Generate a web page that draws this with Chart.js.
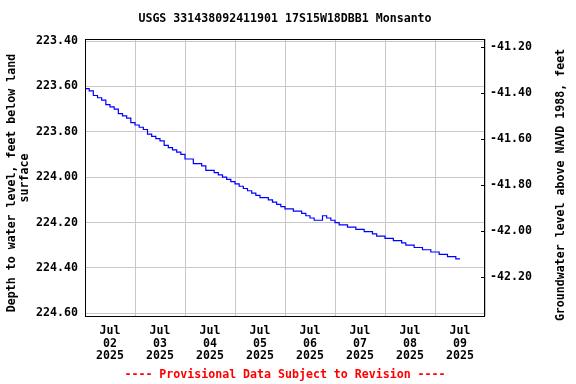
<!DOCTYPE html>
<html>
<head>
<meta charset="utf-8">
<script src="https://cdn.jsdelivr.net/npm/chart.js@4"></script>
<style>
  body { margin: 0; background: #fff; }
  canvas { display: block; }
</style>
</head>
<body>
<canvas id="myChart" width="576" height="384"></canvas>
<script>
// hours after Jul 02 2025 00:00, one reading every 2 hours
const startHour = 0
const stepHours = 2
const depth = [
    223.61, 223.62, 223.64, 223.65, 223.66, 223.68, 223.69, 223.70, 223.72, 223.73, 223.74, 223.76,
    223.77, 223.78, 223.79, 223.81, 223.82, 223.83, 223.84, 223.86, 223.87, 223.88, 223.89, 223.90,
    223.92, 223.92, 223.94, 223.94, 223.95, 223.97, 223.97, 223.98, 223.99, 224.00, 224.01, 224.02,
    224.03, 224.04, 224.05, 224.06, 224.07, 224.08, 224.09, 224.09, 224.10, 224.11, 224.12, 224.13,
    224.14, 224.14, 224.15, 224.15, 224.16, 224.17, 224.18, 224.19, 224.19, 224.17, 224.18, 224.19,
    224.20, 224.21, 224.21, 224.22, 224.22, 224.23, 224.23, 224.24, 224.24, 224.25, 224.26, 224.26,
    224.27, 224.27, 224.28, 224.28, 224.29, 224.30, 224.30, 224.31, 224.31, 224.32, 224.32, 224.33,
    224.33, 224.34, 224.34, 224.35, 224.35, 224.36, 224.36
]
const dayLabels = ['02', '03', '04', '05', '06', '07', '08', '09']
const monthLabel = 'Jul'
const yearLabel = '2025'
const depthTicks = [223.4, 223.6, 223.8, 224.0, 224.2, 224.4, 224.6]
const elevTicks = [-42.2, -42.0, -41.8, -41.6, -41.4, -41.2]

const font = { family: 'DejaVu Sans Mono', size: 11.6, weight: 'bold', lineHeight: 1.12 }
const textFont = 'bold 11.6px "DejaVu Sans Mono"'

const points = depth.map((d, i) => ({ x: startHour + i * stepHours, y: d }))
const xTicks = []
for (let h = 0; h <= 192; h += 12) xTicks.push(h)

function vertText(ctx, text, x, y) {
    ctx.save()
    ctx.translate(x, y)
    ctx.rotate(-Math.PI / 2)
    ctx.fillText(text, 0, 0)
    ctx.restore()
}

const frame = {
    id: 'frame',
    afterDraw(chart) {
        const { ctx, chartArea: a } = chart
        ctx.save()
        ctx.strokeStyle = '#000'
        ctx.lineWidth = 1
        ctx.strokeRect(a.left + 0.5, a.top + 0.5, a.right - a.left - 1, a.bottom - a.top)
        // small inward ticks on the right axis
        const r = chart.scales.y2
        ctx.beginPath()
        r.ticks.forEach(t => {
            const py = Math.round(r.getPixelForValue(t.value)) + 0.5
            ctx.moveTo(a.right - 4, py)
            ctx.lineTo(a.right, py)
        })
        ctx.stroke()
        ctx.fillStyle = '#000'
        ctx.font = textFont
        ctx.textAlign = 'center'
        ctx.textBaseline = 'middle'
        ctx.fillText('USGS 331438092411901 17S15W18DBB1 Monsanto', 285, 19)
        vertText(ctx, 'Depth to water level, feet below land', 12, 183)
        vertText(ctx, 'surface', 25, 178)
        vertText(ctx, 'Groundwater level above NAVD 1988, feet', 561, 185)
        ctx.fillStyle = '#ff0000'
        ctx.fillText('---- Provisional Data Subject to Revision ----', 285, 375)
        ctx.restore()
    }
}

const ctx = document.getElementById('myChart')

const myChart = new Chart(ctx, {
    type: 'line',
    data: {
        datasets: [{
            data: points,
            borderColor: '#0000ff',
            borderWidth: 1.2,
            pointRadius: 0,
            stepped: true,
            fill: false,
            yAxisID: 'y'
        }]
    },
    options: {
        responsive: false,
        animation: false,
        devicePixelRatio: 1,
        layout: { padding: { top: 39, left: 0, right: 0, bottom: 0 } },
        plugins: { legend: { display: false }, title: { display: false }, tooltip: { enabled: false } },
        scales: {
            x: {
                type: 'linear',
                min: 0,
                max: 192,
                afterBuildTicks: s => { s.ticks = xTicks.map(v => ({ value: v })) },
                afterFit: s => { s.height = 68 },
                border: { display: false },
                grid: {
                    drawTicks: false,
                    color: c => (c.tick && c.tick.value % 24 === 0) ? '#c8c8c8' : 'rgba(0,0,0,0)'
                },
                ticks: {
                    autoSkip: false,
                    maxRotation: 0,
                    padding: 8,
                    color: '#000',
                    font: font,
                    callback: v => v % 24 === 12 ? [monthLabel, dayLabels[(v - 12) / 24], yearLabel] : ''
                }
            },
            y: {
                position: 'left',
                reverse: true,
                min: 223.391,
                max: 224.612,
                afterBuildTicks: s => { s.ticks = depthTicks.map(v => ({ value: v })) },
                afterFit: s => { s.width = 85 },
                border: { display: false },
                grid: { drawTicks: false, color: '#c8c8c8' },
                ticks: { padding: 7, color: '#000', font: font, callback: v => v.toFixed(2) }
            },
            y2: {
                position: 'right',
                min: -42.368,
                max: -41.167,
                afterBuildTicks: s => { s.ticks = elevTicks.map(v => ({ value: v })) },
                afterFit: s => { s.width = 91 },
                border: { display: false },
                grid: { drawTicks: false, drawOnChartArea: false },
                ticks: { padding: 5, color: '#000', font: font, callback: v => v.toFixed(2) }
            }
        }
    },
    plugins: [frame]
})
</script>
</body>
</html>
